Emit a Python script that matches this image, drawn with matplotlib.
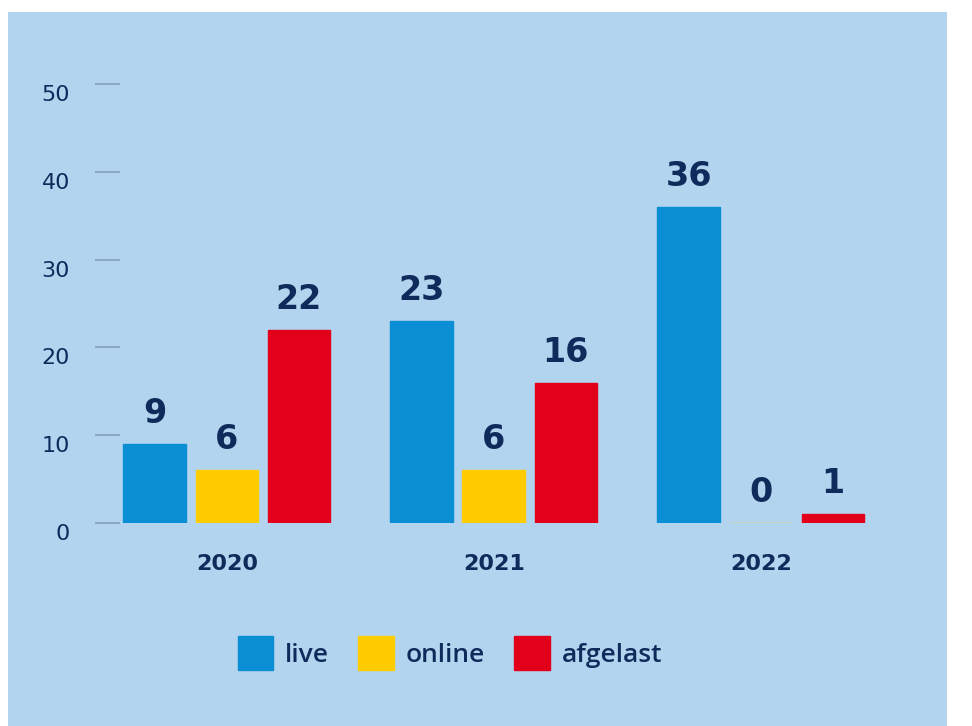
import matplotlib
matplotlib.use("Agg")
import matplotlib.pyplot as plt
import matplotlib.transforms as mtransforms
from matplotlib.patches import Rectangle
import numpy as np

# data
years = ["2020", "2021", "2022"]
series = ["live", "online", "afgelast"]
live = [9, 23, 36]
online = [6, 6, 0]
afgelast = [22, 16, 1]
yticks = [0, 10, 20, 30, 40, 50]

colors = ["#0a8fd4", "#ffcc00", "#e2001a"]
navy = "#0f2b5b"
panel = "#b3d4ee"

fig = plt.figure(figsize=(9.72, 7.26), dpi=100, facecolor="white")
# blue panel behind everything
fig.patches.append(Rectangle((8 / 972, 0), (947 - 8) / 972, 1 - 12 / 726,
                             transform=fig.transFigure, facecolor=panel,
                             edgecolor="none", zorder=0))

ax = fig.add_axes([95 / 972, 1 - 523 / 726, (890 - 95) / 972, (523 - 84) / 726])
ax.set_facecolor("none")
ax.set_zorder(2)

x = np.arange(len(years))
w = 0.235
step = 0.27
for i, (vals, c, name) in enumerate(zip([live, online, afgelast], colors, series)):
    pos = x + (i - 1) * step
    ax.bar(pos, vals, width=w, color=c, edgecolor=c, linewidth=1, label=name, zorder=3)
    for p, v in zip(pos, vals):
        ax.annotate(str(v), (p, v), xytext=(0, 10), textcoords="offset points",
                    ha="center", va="bottom", fontsize=24, fontweight="bold",
                    family="DejaVu Sans", color=navy)

ax.set_xlim(-0.494, 2.484)
ax.set_ylim(0, 50)
ax.set_yticks(yticks)
ax.set_yticklabels([str(t) for t in yticks], fontsize=16, color=navy, family="DejaVu Sans")
ax.tick_params(axis="y", direction="in", length=18, width=1.3, color="#8aa4be", pad=18)
for lab in ax.get_yticklabels():
    lab.set_transform(lab.get_transform() +
                      mtransforms.ScaledTranslation(0, -9 / 100, fig.dpi_scale_trans))

ax.set_xticks(x)
ax.set_xticklabels(years, fontsize=16, fontweight="bold", color=navy, family="DejaVu Sans")
ax.tick_params(axis="x", length=0, pad=22)

for s in ax.spines.values():
    s.set_visible(False)

leg = fig.legend(loc="center", bbox_to_anchor=(450 / 972, 1 - 653 / 726), ncol=3,
                 frameon=False, handlelength=1.35, handleheight=1.55,
                 handletextpad=0.45, columnspacing=1.1,
                 prop={"family": "Open Sans", "size": 19, "weight": "semibold"})
leg.set_zorder(3)
for t in leg.get_texts():
    t.set_color(navy)

fig.savefig("out.png", dpi=100, facecolor="white")
